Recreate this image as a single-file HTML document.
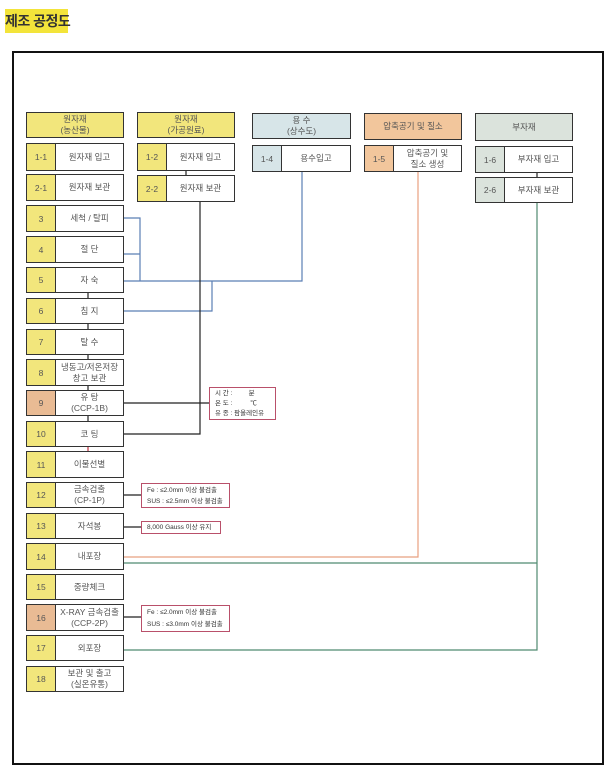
<!DOCTYPE html>
<html><head><meta charset="utf-8"><style>
body{margin:0;width:608px;height:782px;background:#fff;position:relative;overflow:hidden;font-family:"Liberation Sans","Noto Sans CJK KR",sans-serif;color:#333}
.a{position:absolute;box-sizing:border-box}
.t{left:5px;top:9px;width:63px;height:24px;background:#f3e43a;font-weight:bold;font-size:14px;line-height:24px;text-align:center;color:#333;white-space:nowrap;letter-spacing:-0.5px}
.frame{left:12px;top:51px;width:592px;height:714px;border:2px solid #111}
.b{border:1.5px solid #333;background:#fff;display:flex;font-size:8.5px;color:#555}
.b .n{width:28px;border-right:1.5px solid #333;display:flex;align-items:center;justify-content:center;flex:none}
.b .l{flex:1;display:flex;align-items:center;justify-content:center;text-align:center;line-height:11px;white-space:nowrap}
.h{border:1.5px solid #333;display:flex;align-items:center;justify-content:center;text-align:center;font-size:8.5px;line-height:11px;color:#555}
.y{background:#f2e67c}.bl{background:#d7e5e8}.o{background:#f2c69c}.g{background:#dbe3dc}.oo{background:#e9bb94}
.note{border:1.5px solid #b9506a;background:#fff;font-size:6.5px;line-height:11px;padding:1px 5px;color:#333;white-space:nowrap}
</style></head><body>
<div class="a t">제조 공정도</div>
<div class="a frame"></div>
<svg class="a" style="left:0;top:0" width="608" height="782">
<g fill="none" stroke-width="1.2">
<path d="M124 218H140V281M124 254H140M124 281H302V172M212 281V311H124" stroke="#5b7fb5"/>
<path d="M200 202V434H124M124 403H209M88 293V298M88 324V329M88 355V359M88 386V390M88 416V421" stroke="#222"/>
<path d="M88 447V451" stroke="#c03040"/>
<path d="M124 495H141M124 527H141M124 617H141M186 171V175M537 173V177" stroke="#222"/>
<path d="M418 172V557H124" stroke="#e8a080"/>
<path d="M537 203V650H124M124 563H537" stroke="#4f8a70"/>
</g></svg>
<div class="a h y" style="left:26px;top:112px;width:98px;height:26px">원자재<br>(농산물)</div>
<div class="a h y" style="left:137px;top:112px;width:98px;height:26px">원자재<br>(가공원료)</div>
<div class="a h bl" style="left:252px;top:113px;width:99px;height:26px">용 수<br>(상수도)</div>
<div class="a h o" style="left:364px;top:113px;width:98px;height:27px">압축공기 및 질소</div>
<div class="a h g" style="left:475px;top:113px;width:98px;height:28px">부자재</div>
<div class="a b" style="left:137px;top:143px;width:98px;height:28px"><div class="n y">1-2</div><div class="l">원자재 입고</div></div>
<div class="a b" style="left:137px;top:175px;width:98px;height:27px"><div class="n y">2-2</div><div class="l">원자재 보관</div></div>
<div class="a b" style="left:252px;top:145px;width:99px;height:27px"><div class="n bl">1-4</div><div class="l">용수입고</div></div>
<div class="a b" style="left:364px;top:145px;width:98px;height:27px"><div class="n o">1-5</div><div class="l">압축공기 및<br>질소 생성</div></div>
<div class="a b" style="left:475px;top:146px;width:98px;height:27px"><div class="n g">1-6</div><div class="l">부자재 입고</div></div>
<div class="a b" style="left:475px;top:177px;width:98px;height:26px"><div class="n g">2-6</div><div class="l">부자재 보관</div></div>
<div class="a b" style="left:26px;top:143px;width:98px;height:28px"><div class="n y">1-1</div><div class="l">원자재 입고</div></div>
<div class="a b" style="left:26px;top:174px;width:98px;height:27px"><div class="n y">2-1</div><div class="l">원자재 보관</div></div>
<div class="a b" style="left:26px;top:205px;width:98px;height:27px"><div class="n y">3</div><div class="l">세척 / 탈피</div></div>
<div class="a b" style="left:26px;top:236px;width:98px;height:27px"><div class="n y">4</div><div class="l">절 단</div></div>
<div class="a b" style="left:26px;top:267px;width:98px;height:26px"><div class="n y">5</div><div class="l">자 숙</div></div>
<div class="a b" style="left:26px;top:298px;width:98px;height:26px"><div class="n y">6</div><div class="l">침 지</div></div>
<div class="a b" style="left:26px;top:329px;width:98px;height:26px"><div class="n y">7</div><div class="l">탈 수</div></div>
<div class="a b" style="left:26px;top:359px;width:98px;height:27px"><div class="n y">8</div><div class="l">냉동고/저온저장<br>창고 보관</div></div>
<div class="a b" style="left:26px;top:390px;width:98px;height:26px"><div class="n oo">9</div><div class="l">유 탕<br>(CCP-1B)</div></div>
<div class="a b" style="left:26px;top:421px;width:98px;height:26px"><div class="n y">10</div><div class="l">코 팅</div></div>
<div class="a b" style="left:26px;top:451px;width:98px;height:27px"><div class="n y">11</div><div class="l">이물선별</div></div>
<div class="a b" style="left:26px;top:482px;width:98px;height:26px"><div class="n y">12</div><div class="l">금속검출<br>(CP-1P)</div></div>
<div class="a b" style="left:26px;top:513px;width:98px;height:26px"><div class="n y">13</div><div class="l">자석봉</div></div>
<div class="a b" style="left:26px;top:543px;width:98px;height:27px"><div class="n y">14</div><div class="l">내포장</div></div>
<div class="a b" style="left:26px;top:574px;width:98px;height:26px"><div class="n y">15</div><div class="l">중량체크</div></div>
<div class="a b" style="left:26px;top:604px;width:98px;height:27px"><div class="n oo">16</div><div class="l">X-RAY 금속검출<br>(CCP-2P)</div></div>
<div class="a b" style="left:26px;top:635px;width:98px;height:26px"><div class="n y">17</div><div class="l">외포장</div></div>
<div class="a b" style="left:26px;top:666px;width:98px;height:26px"><div class="n y">18</div><div class="l">보관 및 출고<br>(실온유통)</div></div>
<div class="a note" style="left:209px;top:387px;width:67px;height:33px;line-height:10px;padding-top:1px">시 간 : &nbsp;&nbsp;&nbsp;&nbsp;&nbsp;&nbsp;&nbsp;&nbsp;분<br>온 도 : &nbsp;&nbsp;&nbsp;&nbsp;&nbsp;&nbsp;&nbsp;&nbsp;&nbsp;℃<br>유 종 : 팜올레인유</div>
<div class="a note" style="left:141px;top:483px;width:89px;height:25px">Fe : ≤2.0mm 이상 불검출<br>SUS : ≤2.5mm 이상 불검출</div>
<div class="a note" style="left:141px;top:521px;width:80px;height:13px;line-height:10px">8,000 Gauss 이상 유지</div>
<div class="a note" style="left:141px;top:605px;width:89px;height:27px;line-height:12px">Fe : ≤2.0mm 이상 불검출<br>SUS : ≤3.0mm 이상 불검출</div>
</body></html>
